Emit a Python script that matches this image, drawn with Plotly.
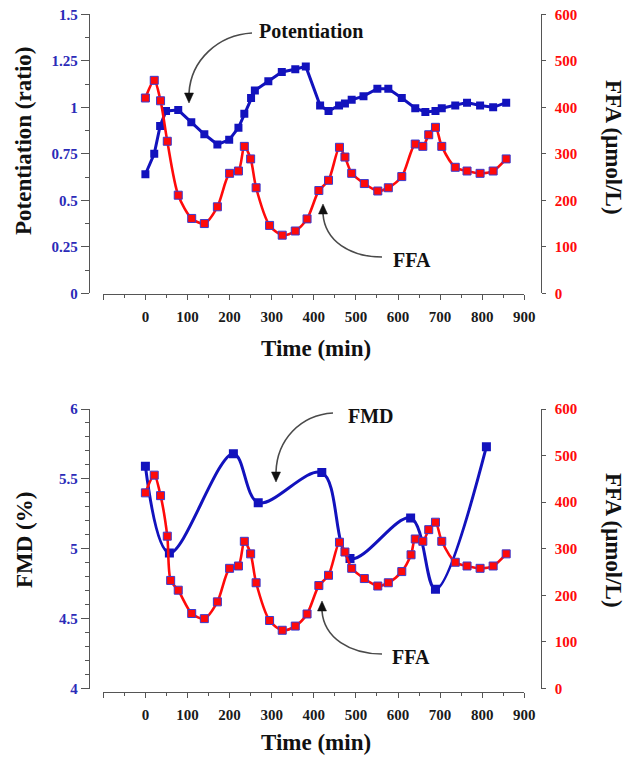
import plotly.graph_objects as go

# ---- data -------------------------------------------------------------
# Top panel: potentiation ratio over time
pot_time = [0, 21, 35, 49, 78, 109, 140, 171, 199, 221, 235, 251, 260, 292, 324,
            356, 381, 415, 435, 460, 474, 490, 518, 551, 577, 609, 641, 665, 689,
            704, 736, 764, 795, 826, 857]
pot_ratio = [0.64, 0.75, 0.90, 0.98, 0.985, 0.92, 0.855, 0.80, 0.825, 0.89, 0.965,
             1.05, 1.09, 1.14, 1.19, 1.205, 1.22, 1.01, 0.98, 1.01, 1.02, 1.04,
             1.06, 1.10, 1.10, 1.05, 0.995, 0.975, 0.98, 0.995, 1.01, 1.025, 1.01,
             1.00, 1.025]

# Free fatty acids (umol/L), top panel
ffa_time = [0, 21, 36, 52, 78, 110, 140, 171, 200, 221, 235, 250, 263, 295, 325,
            356, 384, 412, 435, 461, 474, 490, 520, 552, 577, 609, 641, 659, 673,
            689, 704, 736, 764, 795, 826, 857]
ffa_val = [420, 458, 414, 327, 211, 161, 150, 186, 258, 263, 316, 289, 227, 146,
           125, 134, 160, 221, 243, 314, 293, 258, 236, 220, 227, 251, 321, 316,
           341, 357, 316, 271, 263, 258, 263, 289]

# Bottom panel: flow-mediated dilation (%)
fmd_time = [0, 57, 209, 268, 419, 486, 630, 689, 810]
fmd_val = [5.59, 4.97, 5.68, 5.33, 5.545, 4.93, 5.22, 4.71, 5.73]

# Free fatty acids, bottom panel (includes samples at FMD times)
ffa2_time = [0, 21, 36, 52, 60, 78, 110, 140, 171, 200, 221, 235, 250, 263, 295,
             325, 356, 384, 412, 435, 461, 474, 490, 520, 552, 577, 609, 631, 641,
             659, 673, 689, 704, 736, 764, 795, 826, 857]
ffa2_val = [420, 458, 414, 327, 232, 211, 161, 150, 186, 258, 263, 316, 289, 227,
            146, 125, 134, 160, 221, 243, 314, 293, 258, 236, 220, 227, 251, 287,
            321, 316, 341, 357, 316, 271, 263, 258, 263, 289]

# Tick labels
x_ticks = [-100, 0, 100, 200, 300, 400, 500, 600, 700, 800, 900]
x_labels = ["", "0", "100", "200", "300", "400", "500", "600", "700", "800", "900"]
pot_ticks = [0, 0.25, 0.5, 0.75, 1, 1.25, 1.5]
pot_labels = ["0", "0.25", "0.5", "0.75", "1", "1.25", "1.5"]
fmd_ticks = [4, 4.5, 5, 5.5, 6]
fmd_labels = ["4", "4.5", "5", "5.5", "6"]
ffa_ticks = [0, 100, 200, 300, 400, 500, 600]
ffa_labels = ["0", "100", "200", "300", "400", "500", "600"]

# ---- styling ----------------------------------------------------------
W, H = 627, 757
SERIF = "Liberation Serif"
BLUE = "#1212bd"
RED = "#ff0a0a"
AXIS = "#555555"
TICK_BLUE = "#2b2bb8"


def px(x):
    return x / W


def py(y):
    return 1 - y / H


fig = go.Figure()

# top panel traces
fig.add_trace(go.Scatter(
    x=pot_time, y=pot_ratio, xaxis="x", yaxis="y", mode="lines+markers",
    line=dict(color=BLUE, width=3),
    marker=dict(symbol="square", size=8, color=BLUE, line=dict(color=BLUE, width=0)),
    showlegend=False))
fig.add_trace(go.Scatter(
    x=ffa_time, y=ffa_val, xaxis="x", yaxis="y2", mode="lines+markers",
    line=dict(color=RED, width=2.6, shape="spline", smoothing=0.8),
    marker=dict(symbol="square", size=8, color=RED, line=dict(color="#3a3ad0", width=1)),
    showlegend=False))

# bottom panel traces
fig.add_trace(go.Scatter(
    x=fmd_time, y=fmd_val, xaxis="x2", yaxis="y3", mode="lines+markers",
    line=dict(color=BLUE, width=3, shape="spline", smoothing=1.0),
    marker=dict(symbol="square", size=9, color=BLUE),
    showlegend=False))
fig.add_trace(go.Scatter(
    x=ffa2_time, y=ffa2_val, xaxis="x2", yaxis="y4", mode="lines+markers",
    line=dict(color=RED, width=2.6, shape="spline", smoothing=0.8),
    marker=dict(symbol="square", size=8, color=RED, line=dict(color="#3a3ad0", width=1)),
    showlegend=False))

tick_font_x = dict(family=SERIF, size=15, color="#1a1a1a", weight="bold")
tick_font_l = dict(family=SERIF, size=15, color=TICK_BLUE, weight="bold")
tick_font_r = dict(family=SERIF, size=15, color=RED, weight="bold")


def x_axis(position):
    return dict(
        domain=[px(103.3), px(524.3)], range=[-100, 900], anchor="free",
        position=position, showline=True, linecolor=AXIS, linewidth=1.3,
        ticks="outside", ticklen=5, tickwidth=1.3, tickcolor=AXIS,
        tickmode="array", tickvals=x_ticks, ticktext=x_labels,
        tickfont=tick_font_x, ticklabelstandoff=4,
        minor=dict(ticks="outside", ticklen=3, tickwidth=1.2, tickcolor=AXIS,
                   tickmode="linear", tick0=-50, dtick=100, showgrid=False),
        showgrid=False, zeroline=False, automargin=False, fixedrange=True)


def left_axis(domain, rng, vals, texts, minor_step):
    return dict(
        domain=domain, range=rng, anchor="free", position=px(89), side="left",
        showline=True, linecolor=AXIS, linewidth=1.3,
        ticks="outside", ticklen=8, tickwidth=1.3, tickcolor=AXIS,
        tickmode="array", tickvals=vals, ticktext=texts, tickfont=tick_font_l,
        minor=dict(ticks="outside", ticklen=4, tickwidth=1.2, tickcolor=AXIS,
                   tickmode="linear", tick0=rng[0], dtick=minor_step, showgrid=False),
        showgrid=False, zeroline=False, automargin=False, fixedrange=True)


def right_axis(overlay):
    return dict(
        overlaying=overlay, range=[0, 600], anchor="free", position=px(540.7),
        side="right", showline=True, linecolor=AXIS, linewidth=1.3,
        ticks="outside", ticklen=4, tickwidth=1.3, tickcolor=AXIS,
        tickmode="array", tickvals=ffa_ticks, ticktext=ffa_labels,
        tickfont=tick_font_r, ticklabelstandoff=6,
        showgrid=False, zeroline=False, automargin=False, fixedrange=True)


top_dom = [py(293.3), py(14.3)]
bot_dom = [py(688.5), py(409.0)]

fig.update_layout(
    width=W, height=H,
    margin=dict(l=0, r=0, t=0, b=0),
    paper_bgcolor="white", plot_bgcolor="white",
    xaxis=x_axis(py(294.3)),
    xaxis2=x_axis(py(692.0)),
    yaxis=left_axis(top_dom, [0, 1.5], pot_ticks, pot_labels, 0.125),
    yaxis2=right_axis("y"),
    yaxis3=left_axis(bot_dom, [4, 6], fmd_ticks, fmd_labels, 0.1),
    yaxis4=right_axis("y3"),
)

# axis titles
title_font = dict(family=SERIF, size=23, color="#111111", weight="bold")
titles = [
    ("Potentiation (ratio)", 24, 141, -90),
    ("FFA (μmol/L)", 614, 147, 90),
    ("Time (min)", 316, 348, 0),
    ("FMD (%)", 24, 540, -90),
    ("FFA (μmol/L)", 614, 540, 90),
    ("Time (min)", 316, 742, 0),
]
for text, x, y, ang in titles:
    fig.add_annotation(text=text, x=px(x), y=py(y), xref="paper", yref="paper",
                       showarrow=False, textangle=ang, font=title_font,
                       xanchor="center", yanchor="middle")

# callout labels
label_font = dict(family=SERIF, size=20, color="#111111", weight="bold")
labels = [("Potentiation", 311, 31), ("FFA", 412, 260),
          ("FMD", 371, 416), ("FFA", 411, 657)]
for text, x, y in labels:
    fig.add_annotation(text=text, x=px(x), y=py(y), xref="paper", yref="paper",
                       showarrow=False, font=label_font,
                       xanchor="center", yanchor="middle")


# curved callout arrows (cubic Bezier + filled head)
def curve(p0, p1, p2, p3):
    pts = [p0, p1, p2, p3]
    s = [f"{px(a):.5f},{py(b):.5f}" for a, b in pts]
    return f"M{s[0]} C{s[1]} {s[2]} {s[3]}"


def head(tip, base_y_offset):
    tx, ty = tip
    by = ty + base_y_offset
    pts = [(tx, ty), (tx - 4.5, by), (tx + 4.5, by)]
    s = [f"{px(a):.5f},{py(b):.5f}" for a, b in pts]
    return f"M{s[0]} L{s[1]} L{s[2]} Z"


arrows = [
    ((252, 33), (218, 35), (191, 60), (189, 93), (189, 103), -10),
    ((382, 257), (350, 257), (325, 241), (323, 214), (323, 204), 10),
    ((333, 413), (300, 415), (277, 440), (276, 472), (276, 482), -10),
    ((382, 654), (350, 654), (324, 638), (322, 611), (322, 601), 10),
]
for p0, p1, p2, p3, tip, off in arrows:
    fig.add_shape(type="path", path=curve(p0, p1, p2, p3), xref="paper", yref="paper",
                  line=dict(color="#4a4a4a", width=1.6))
    fig.add_shape(type="path", path=head(tip, off), xref="paper", yref="paper",
                  line=dict(color="#111111", width=0.5), fillcolor="#111111")

fig.write_html("out.html")
